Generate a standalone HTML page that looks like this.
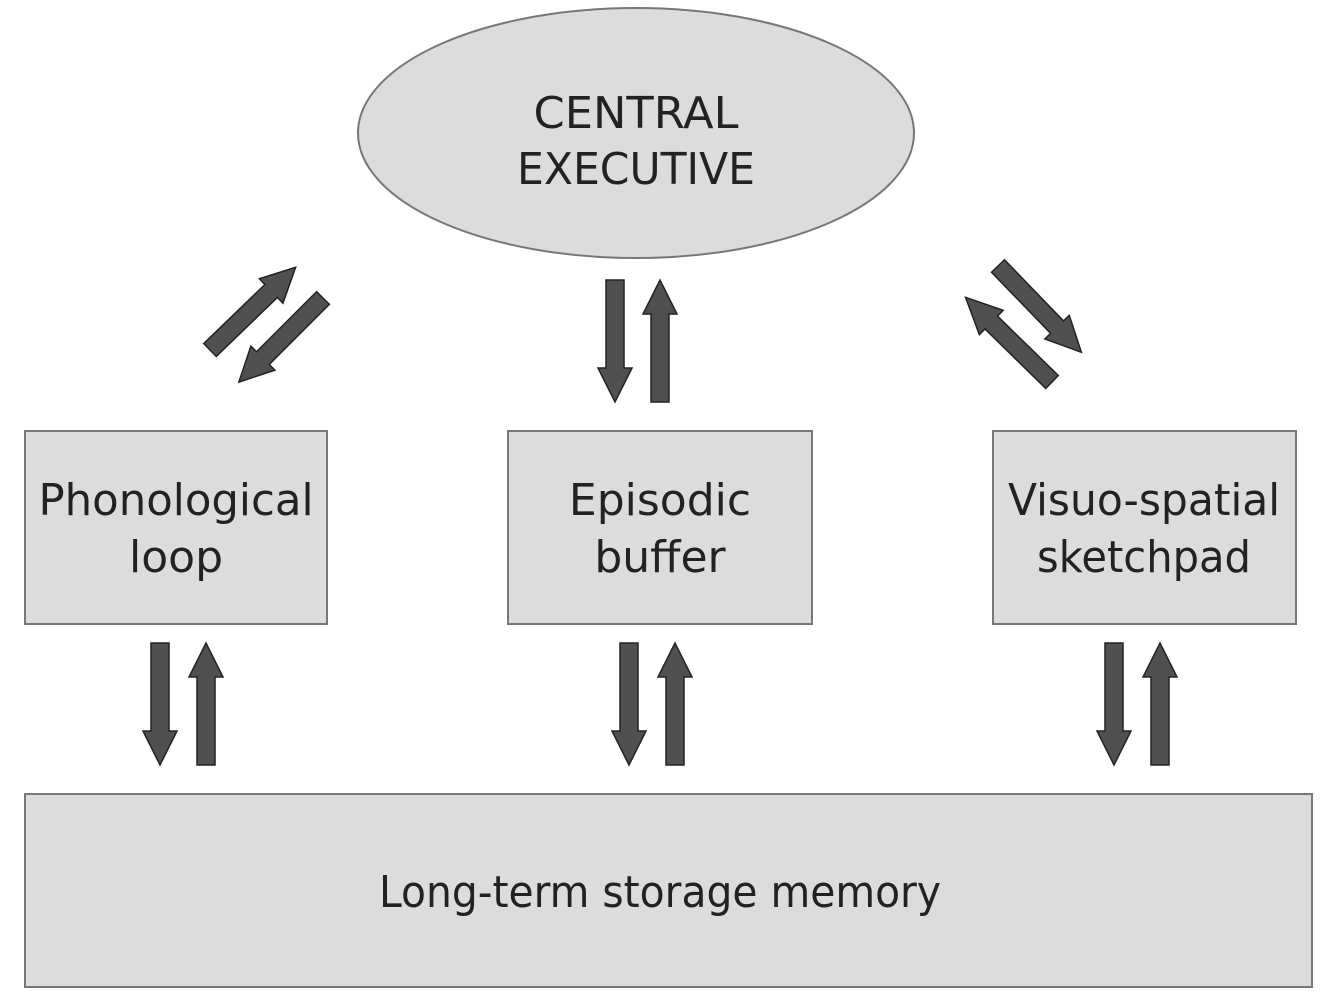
<!DOCTYPE html>
<html><head><meta charset="utf-8"><style>
html,body{margin:0;padding:0;background:#fff;}
svg text{font-family:"DejaVu Sans","Liberation Sans",sans-serif;fill:#222;}
</style></head><body>
<svg width="1334" height="1000" viewBox="0 0 1334 1000" xmlns="http://www.w3.org/2000/svg">
<ellipse cx="636" cy="133" rx="278" ry="125" fill="#dcdcdc" stroke="#777" stroke-width="2"/>
<text x="636" y="128" font-size="44" text-anchor="middle" textLength="205" lengthAdjust="spacingAndGlyphs">CENTRAL</text>
<text x="636" y="184" font-size="44" text-anchor="middle" textLength="238" lengthAdjust="spacingAndGlyphs">EXECUTIVE</text>

<rect x="25" y="431" width="302" height="193" fill="#dcdcdc" stroke="#777" stroke-width="2"/>
<text x="176" y="515" font-size="44" text-anchor="middle" textLength="275" lengthAdjust="spacingAndGlyphs">Phonological</text>
<text x="176" y="572" font-size="44" text-anchor="middle">loop</text>

<rect x="508" y="431" width="304" height="193" fill="#dcdcdc" stroke="#777" stroke-width="2"/>
<text x="660" y="515" font-size="44" text-anchor="middle">Episodic</text>
<text x="660" y="572" font-size="44" text-anchor="middle">buffer</text>

<rect x="993" y="431" width="303" height="193" fill="#dcdcdc" stroke="#777" stroke-width="2"/>
<text x="1144" y="515" font-size="44" text-anchor="middle" textLength="272" lengthAdjust="spacingAndGlyphs">Visuo-spatial</text>
<text x="1144" y="572" font-size="44" text-anchor="middle" textLength="214" lengthAdjust="spacingAndGlyphs">sketchpad</text>

<rect x="25" y="794" width="1287" height="193" fill="#dcdcdc" stroke="#777" stroke-width="2"/>
<text x="660" y="907" font-size="44" text-anchor="middle" textLength="562" lengthAdjust="spacingAndGlyphs">Long-term storage memory</text>

<g fill="#505050" stroke="#222" stroke-width="1.5">
<!-- vertical arrows: length 122 -->
<path transform="translate(160,643) rotate(90)" d="M0,-9 L88,-9 L88,-17 L122,0 L88,17 L88,9 L0,9 Z"/>
<path transform="translate(206,765) rotate(-90)" d="M0,-9 L88,-9 L88,-17 L122,0 L88,17 L88,9 L0,9 Z"/>
<path transform="translate(629,643) rotate(90)" d="M0,-9 L88,-9 L88,-17 L122,0 L88,17 L88,9 L0,9 Z"/>
<path transform="translate(675,765) rotate(-90)" d="M0,-9 L88,-9 L88,-17 L122,0 L88,17 L88,9 L0,9 Z"/>
<path transform="translate(1114,643) rotate(90)" d="M0,-9 L88,-9 L88,-17 L122,0 L88,17 L88,9 L0,9 Z"/>
<path transform="translate(1160,765) rotate(-90)" d="M0,-9 L88,-9 L88,-17 L122,0 L88,17 L88,9 L0,9 Z"/>
<path transform="translate(615,280) rotate(90)" d="M0,-9 L88,-9 L88,-17 L122,0 L88,17 L88,9 L0,9 Z"/>
<path transform="translate(660,402) rotate(-90)" d="M0,-9 L88,-9 L88,-17 L122,0 L88,17 L88,9 L0,9 Z"/>
<!-- diagonal arrows: length 119 -->
<path transform="translate(210,350) rotate(-44)" d="M0,-9 L85,-9 L85,-17 L119,0 L85,17 L85,9 L0,9 Z"/>
<path transform="translate(323,298) rotate(135)" d="M0,-9 L85,-9 L85,-17 L119,0 L85,17 L85,9 L0,9 Z"/>
<path transform="translate(998,266) rotate(46)" d="M0,-9 L85,-9 L85,-17 L120,0 L85,17 L85,9 L0,9 Z"/>
<path transform="translate(1052,382) rotate(-135.6)" d="M0,-9 L85,-9 L85,-17 L121,0 L85,17 L85,9 L0,9 Z"/>
</g>
</svg>
</body></html>
